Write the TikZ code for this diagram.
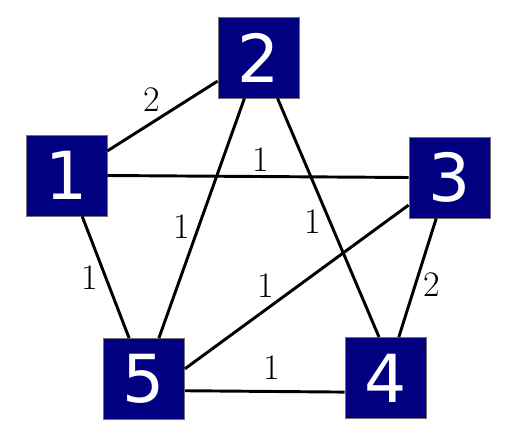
\documentclass[tikz,border=0pt]{standalone}
\usepackage{fontspec}
\newfontfamily\vertexfont{DejaVu Sans}
\definecolor{vertexblue}{RGB}{0,0,128}

\begin{document}
\begin{tikzpicture}[x=0.75pt,y=-0.75pt,
  vertex/.style={draw=black!55,line width=0.6pt,fill=vertexblue,text=white,
    minimum size=60.75pt,inner sep=0pt,font=\vertexfont\fontsize{49.7}{55}\selectfont},
  edge/.style={line width=2.2pt},
  weight/.style={font=\fontsize{27}{30}\selectfont,inner sep=0pt}]
\useasboundingbox (0,0) rectangle (514,440);
\node[vertex] (1) at (66.5,175.5) {1};
\node[vertex] (2) at (258.5,57.5) {2};
\node[vertex] (3) at (449.5,177.5) {3};
\node[vertex] (4) at (385.5,378) {4};
\node[vertex] (5) at (144,379) {5};
\draw[edge] (1.31) -- node[weight,shift={(-10.5,-16)}] {2} (2.210);
\draw[edge] (1.east) -- node[weight,shift={(3,-17)}] {1} (3.west);
\draw[edge] (1.-69) -- node[weight,shift={(-15.5,0.5)}] {1} (5.110.6);
\draw[edge] (2.251.6) -- node[weight,shift={(-19.5,8.5)}] {1} (5.70.7);
\draw[edge] (2.-65.4) -- node[weight,shift={(-16,4)}] {1} (4.99);
\draw[edge] (3.214.2) -- node[weight,shift={(-30.5,-1)}] {1} (5.14);
\draw[edge] (3.252.8) -- node[weight,shift={(14.5,7)}] {2} (4.72.6);
\draw[edge] (5.-16.7) -- node[weight,shift={(7.5,-23.5)}] {1} (4.199);
\end{tikzpicture}
\end{document}
